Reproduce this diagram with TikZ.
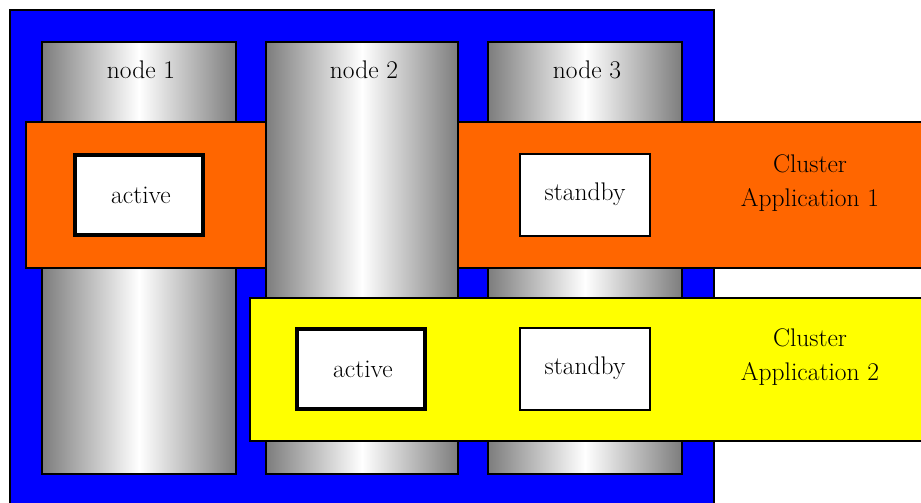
\documentclass[tikz,border=0pt]{standalone}
\definecolor{orangeband}{RGB}{255,102,0}
\definecolor{yellowband}{RGB}{255,255,0}
\definecolor{bluebg}{RGB}{0,0,255}
\definecolor{colgray}{RGB}{125,125,125}
\begin{document}
\begin{tikzpicture}[x=1pt,y=-1pt,
  every node/.style={inner sep=0pt,outer sep=0pt},
  col/.style={draw=black,line width=1.8pt,left color=colgray,right color=colgray,middle color=white,shading angle=90,minimum width=194pt,minimum height=432pt},
  band/.style={draw=black,line width=1.8pt,minimum width=920pt},
  activebox/.style={draw=black,fill=white,line width=4.5pt,minimum width=128pt,minimum height=80pt},
  standbybox/.style={draw=black,fill=white,line width=1.6pt,minimum width=130pt,minimum height=82pt},
  lbl/.style={font=\fontsize{25.5}{34}\selectfont,align=center}
]
\useasboundingbox (0,0) rectangle (921,503);
\node[draw=black,line width=1.8pt,fill=bluebg,minimum width=704pt,minimum height=520pt] (cluster) at (362,270) {};
\node[col] (n1) at (139,258) {};
\node[col] (n3) at (585,258) {};
\node[lbl] (l1) at (141,70) {node 1};
\node[lbl] (l3) at (587,70) {node 3};
\node[band,fill=orangeband,minimum height=146pt,anchor=west] (app1) at (26,195) {};
\node[col,minimum width=192pt] (n2) at (362,258) {};
\node[lbl] (l2) at (364,70) {node 2};
\node[activebox] (a1) at (139,195) {};
\node[lbl] (a1t) at (141,195) {active};
\node[standbybox] (s1) at (585,195) {};
\node[lbl] (s1t) at (585,194) {standby};
\node[lbl] (c1) at (810,183) {Cluster\\Application 1};
\node[band,fill=yellowband,minimum height=143pt,anchor=west] (app2) at (250,369.5) {};
\node[activebox] (a2) at (361,369) {};
\node[lbl] (a2t) at (363,369) {active};
\node[standbybox] (s2) at (585,369) {};
\node[lbl] (s2t) at (585,368) {standby};
\node[lbl] (c2) at (810,357) {Cluster\\Application 2};
\end{tikzpicture}
\end{document}
